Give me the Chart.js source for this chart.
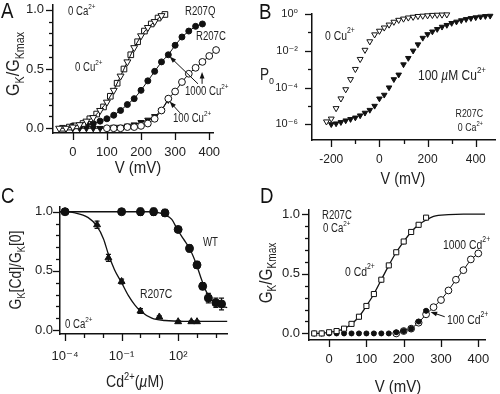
<!DOCTYPE html>
<html>
<head>
<meta charset="utf-8">
<script src="https://cdn.jsdelivr.net/npm/chart.js@4.4.1/dist/chart.umd.min.js"></script>
<style>
  html, body { margin: 0; padding: 0; background: #fff; }
  #wrap { position: relative; width: 500px; height: 394px; overflow: hidden; }
  .panel { position: absolute; width: 250px; height: 197px; }
  .tag { position: absolute; font: 22px 'Liberation Sans', sans-serif; line-height: 1; color: #111; transform: scaleX(0.85); transform-origin: left top; }
</style>
</head>
<body>
<div id="wrap">
  <div class="panel" style="left:0;top:0"><canvas id="chartA"></canvas></div>
  <div class="panel" style="left:250px;top:0"><canvas id="chartB"></canvas></div>
  <div class="panel" style="left:0;top:197px"><canvas id="chartC"></canvas></div>
  <div class="panel" style="left:250px;top:197px"><canvas id="chartD"></canvas></div>
  <div class="tag" style="left:1px;top:0">A</div>
  <div class="tag" style="left:259px;top:1px">B</div>
  <div class="tag" style="left:1px;top:185px">C</div>
  <div class="tag" style="left:260px;top:185px">D</div>
</div>
<script>
// ---------- panel A: G/Gmax vs V, Cu2+
const aVoltT = [-40, -20, 0, 20, 40, 60, 80, 100, 120, 140, 160, 180, 200, 220, 240, 260];
const aCu0T = [0.00, 0.00, 0.01, 0.03, 0.06, 0.09, 0.15, 0.22, 0.32, 0.44, 0.56, 0.68, 0.78, 0.85, 0.90, 0.95];
const aVoltS = [-30, -10, 10, 30, 50, 70, 90, 110, 130, 150, 170, 190, 210, 230, 250, 270];
const aCu0S = [0.00, 0.01, 0.02, 0.04, 0.08, 0.12, 0.18, 0.27, 0.38, 0.50, 0.62, 0.73, 0.82, 0.88, 0.93, 0.96];
const aVoltQ = [0, 20, 40, 60, 80, 100, 120, 140, 160, 180, 200, 220, 240, 260, 280, 300, 320, 340, 360, 380];
const aQCu1000 = [0.02, 0.02, 0.03, 0.04, 0.06, 0.08, 0.11, 0.15, 0.20, 0.25, 0.32, 0.40, 0.48, 0.56, 0.62, 0.70, 0.77, 0.82, 0.86, 0.88];
const aVoltC1000 = [100, 120, 140, 160, 180, 200, 220, 240, 260, 280, 300, 320, 340, 360, 380, 400, 420];
const aCCu1000 = [0.00, 0.00, 0.00, 0.01, 0.01, 0.02, 0.04, 0.08, 0.15, 0.25, 0.31, 0.39, 0.46, 0.51, 0.56, 0.61, 0.66];
const aVoltC100 = [-20, 0, 20, 40, 60, 80, 100, 120, 140, 160, 180, 200, 220, 240, 260, 280];
const aCCu100 = [0.00, 0.00, 0.00, 0.00, 0.00, 0.00, 0.00, 0.01, 0.01, 0.02, 0.03, 0.05, 0.07, 0.10, 0.15, 0.24];
const aTickX = [0, 100, 200, 300, 400];

// ---------- panel B: Po vs V (log)
const bVolt0 = [-220, -200, -180, -160, -140, -120, -100, -80, -60, -40, -20, 0, 20, 40, 60, 80, 100, 120, 140, 160, 180, 200, 220, 240, 260, 280];
const bPo0 = [1.4e-6, 2.0e-6, 7.4e-6, 2.5e-5, 7.9e-5, 2.8e-4, 1.0e-3, 3.5e-3, 1.1e-2, 3.2e-2, 7.6e-2, 0.12, 0.18, 0.26, 0.37, 0.47, 0.55, 0.63, 0.69, 0.76, 0.79, 0.83, 0.87, 0.89, 0.91, 0.93];
const bVolt100 = [-200, -180, -160, -140, -120, -100, -80, -60, -40, -20, 0, 20, 40, 60, 80, 100, 120, 140, 160, 180, 200, 220, 240, 260, 280, 300, 320, 340, 360, 380, 400, 420, 440, 460];
const bPo100 = [1.0e-6, 1.1e-6, 1.3e-6, 1.6e-6, 1.9e-6, 2.3e-6, 3.0e-6, 4.2e-6, 6.0e-6, 1.0e-5, 2.5e-5, 4.0e-5, 1.0e-4, 2.8e-4, 5.0e-4, 1.8e-3, 4.0e-3, 1.0e-2, 2.2e-2, 5.0e-2, 7.9e-2, 0.11, 0.15, 0.20, 0.25, 0.32, 0.38, 0.45, 0.52, 0.59, 0.65, 0.71, 0.76, 0.79];
const bTickX = [-200, -100, 0, 100, 200, 300, 400];
const bTickXLabels = ['-200', '', '0', '', '200', '', '400'];
const bTickY = [1, 1e-1, 1e-2, 1e-3, 1e-4, 1e-5, 1e-6];
const bTickYLabels = ['10⁰', '', '10⁻²', '', '10⁻⁴', '', '10⁻⁶'];

// ---------- panel C: Cd2+ dose response
const cConcC = [1e-4, 5e-3, 2e-2, 1e-1, 1, 10, 100, 500, 1000];
const cFracC = [1.0, 0.89, 0.61, 0.41, 0.16, 0.11, 0.07, 0.07, 0.07];
const cErrC = [0.01, 0.03, 0.03, 0.02, 0.02, 0.01, 0.01, 0.01, 0.01];
const cConcW = [1e-4, 0.1, 1, 5, 20, 100, 400, 1000, 2000, 4000, 10000, 20000];
const cFracW = [1.0, 1.0, 1.0, 1.0, 0.99, 0.85, 0.69, 0.55, 0.37, 0.27, 0.23, 0.22];
const cErrW = [0.01, 0.01, 0.03, 0.03, 0.03, 0.02, 0.03, 0.03, 0.03, 0.04, 0.04, 0.05];
const cFitCX = [5.4e-5, 3.4e-4, 1.7e-3, 4.8e-3, 1.1e-2, 2.0e-2, 4.2e-2, 0.1, 0.23, 0.51, 1, 4, 20, 200, 4e4];
const cFitCY = [1.0, 0.99, 0.95, 0.88, 0.77, 0.64, 0.51, 0.40, 0.29, 0.21, 0.16, 0.10, 0.08, 0.073, 0.073];
const cFitWX = [5.4e-5, 3, 10, 19, 46, 91, 190, 430, 950, 1800, 3200, 7400, 20000, 40000];
const cFitWY = [1.0, 1.0, 0.99, 0.975, 0.935, 0.85, 0.77, 0.68, 0.55, 0.42, 0.32, 0.24, 0.20, 0.19];
const cTickX = [1e-4, 1e-3, 1e-2, 1e-1, 1, 10, 100, 1000, 10000];
const cTickXLabels = ['10⁻⁴', '', '', '10⁻¹', '', '', '10²', '', ''];

// ---------- panel D: G/Gmax vs V, Cd2+
const dVolt0 = [-40, -20, 0, 20, 40, 60, 80, 100, 120, 140, 160, 180, 200, 220, 240, 260];
const dCd0 = [0.00, 0.00, 0.01, 0.02, 0.04, 0.08, 0.14, 0.23, 0.33, 0.45, 0.57, 0.68, 0.77, 0.85, 0.91, 0.97];
const dFit0X = [-40, -20, 0, 20, 40, 60, 80, 100, 120, 140, 160, 180, 200, 220, 240, 260, 280, 320, 360, 418];
const dFit0Y = [0.00, 0.00, 0.01, 0.02, 0.04, 0.08, 0.14, 0.23, 0.33, 0.45, 0.57, 0.68, 0.77, 0.85, 0.91, 0.95, 0.98, 0.995, 1.0, 1.0];
const dVolt100 = [-40, -20, 0, 20, 40, 60, 80, 100, 120, 140, 160, 180, 200, 220, 240, 260];
const dCd100 = [0, 0, 0, 0, 0, 0, 0, 0, 0, 0, 0, 0.01, 0.02, 0.04, 0.10, 0.19];
const dVolt1000 = [180, 200, 220, 240, 260, 280, 300, 320, 340, 360, 380, 400];
const dCd1000 = [0.00, 0.02, 0.04, 0.09, 0.16, 0.22, 0.28, 0.36, 0.45, 0.53, 0.62, 0.67];
const dTickX = [0, 100, 200, 300, 400];

// shared y ticks for the 0..1 panels
const gTickY = [0, 0.1, 0.2, 0.3, 0.4, 0.5, 0.6, 0.7, 0.8, 0.9, 1.0];
const gTickYLabels = ['0.0', '', '', '', '', '0.5', '', '', '', '', '1.0'];

const FONT = "'Liberation Sans', 'DejaVu Sans', sans-serif";
const INK = '#111';
const TEXT = '#222';

// ---------- helpers
function series(xs, ys, o) {
    return Object.assign({
        data: xs.map((x, i) => ({ x: x, y: ys[i] })),
        showLine: false,
        clip: false,
        pointRadius: 3,
        pointBorderWidth: 1,
        pointBorderColor: INK,
        pointBackgroundColor: INK,
        borderColor: INK,
        borderWidth: 1,
    }, o);
}
const openTri = { pointStyle: 'triangle', pointRotation: 180, pointRadius: 4, pointBackgroundColor: '#fff' };
const fillTri = { pointStyle: 'triangle', pointRotation: 180, pointRadius: 3.6 };
const openSq = { pointStyle: 'rect', pointRadius: 4, pointBackgroundColor: '#fff' };
const openDot = { pointStyle: 'circle', pointRadius: 3.4, pointBackgroundColor: '#fff' };
const fillDot = { pointStyle: 'circle', pointRadius: 3 };
const fitLine = { showLine: true, pointRadius: 0, borderWidth: 1.3, cubicInterpolationMode: 'monotone' };

function axis(type, min, max, vals, labels, size, pad, fit) {
    return {
        type: type,
        min: min,
        max: max,
        grid: { display: false, drawTicks: false },
        border: { display: true, color: INK, width: 1.5 },
        ticks: {
            autoSkip: false,
            maxRotation: 0,
            padding: pad,
            color: TEXT,
            font: { family: FONT, size: size },
            callback: (v, i) => labels[i],
        },
        afterBuildTicks: (s) => { s.ticks = vals.map((v) => ({ value: v })); },
        afterFit: (s) => {
            fit(s);
            s.paddingLeft = s.paddingRight = s.paddingTop = s.paddingBottom = 0;
        },
    };
}

// text with sub/superscripts, squeezed sideways like the narrow face of the figure
function rich(ctx, parts, size, align, squeeze) {
    const runs = parts.map((p) => {
        const k = p[1] || '';
        const s = (k === 'sub' || k === 'sup') ? size * 0.66 : size;
        ctx.font = (k === 'it' ? 'italic ' : '') + s + 'px ' + FONT;
        return { t: p[0], k: k, s: s, w: ctx.measureText(p[0]).width };
    });
    const total = runs.reduce((a, r) => a + r.w, 0);
    let x = align === 'center' ? -total / 2 : align === 'right' ? -total : 0;
    ctx.scale(squeeze, 1);
    ctx.fillStyle = TEXT;
    ctx.textAlign = 'left';
    ctx.textBaseline = 'middle';
    runs.forEach((r) => {
        ctx.font = (r.k === 'it' ? 'italic ' : '') + r.s + 'px ' + FONT;
        const dy = r.k === 'sub' ? size * 0.32 : r.k === 'sup' ? -size * 0.4 : 0;
        ctx.fillText(r.t, x, dy);
        x += r.w;
    });
}

function arrow(ctx, x1, y1, x2, y2) {
    const a = Math.atan2(y2 - y1, x2 - x1);
    ctx.beginPath();
    ctx.moveTo(x1, y1);
    ctx.lineTo(x2 - 4 * Math.cos(a), y2 - 4 * Math.sin(a));
    ctx.stroke();
    ctx.beginPath();
    ctx.moveTo(x2, y2);
    ctx.lineTo(x2 - 7 * Math.cos(a - 0.35), y2 - 7 * Math.sin(a - 0.35));
    ctx.lineTo(x2 - 7 * Math.cos(a + 0.35), y2 - 7 * Math.sin(a + 0.35));
    ctx.closePath();
    ctx.fill();
}

const notesPlugin = {
    id: 'notes',
    afterDraw(chart, args, opts) {
        const ctx = chart.ctx;
        const sx = chart.scales.x, sy = chart.scales.y;
        ctx.save();
        ctx.strokeStyle = INK;
        ctx.fillStyle = INK;
        ctx.lineWidth = 1;
        (opts.arrows || []).forEach((a) => {
            arrow(ctx, sx.getPixelForValue(a.from[0]), sy.getPixelForValue(a.from[1]),
                sx.getPixelForValue(a.to[0]), sy.getPixelForValue(a.to[1]));
        });
        (opts.labels || []).forEach((l) => {
            ctx.save();
            ctx.translate(l.x, l.y);
            if (l.rot) ctx.rotate(l.rot);
            rich(ctx, l.t, l.size, l.align || 'left', l.sq || 0.8);
            ctx.restore();
        });
        ctx.restore();
    },
};

const tickPlugin = {
    id: 'tickMarks',
    afterDraw(chart, args, opts) {
        const ctx = chart.ctx;
        ctx.save();
        ctx.strokeStyle = INK;
        ctx.lineWidth = 1.3;
        ['x', 'y'].forEach((id) => {
            const sc = chart.scales[id];
            sc.ticks.forEach((t, i) => {
                const len = t.label ? opts.major : opts.minor;
                const p = Math.round(sc.getPixelForTick(i)) + 0.5;
                ctx.beginPath();
                if (id === 'x') {
                    ctx.moveTo(p, sc.top);
                    ctx.lineTo(p, sc.top + len);
                } else {
                    ctx.moveTo(sc.right, p);
                    ctx.lineTo(sc.right - len, p);
                }
                ctx.stroke();
            });
        });
        ctx.restore();
    },
};

const errPlugin = {
    id: 'errbars',
    beforeDatasetsDraw(chart) {
        const ctx = chart.ctx, sy = chart.scales.y;
        ctx.save();
        ctx.strokeStyle = INK;
        ctx.lineWidth = 1.2;
        chart.data.datasets.forEach((ds, di) => {
            if (!ds.errs) return;
            chart.getDatasetMeta(di).data.forEach((pt, i) => {
                const v = ds.data[i].y, e = ds.errs[i];
                const y1 = sy.getPixelForValue(v - e), y2 = sy.getPixelForValue(v + e);
                ctx.beginPath();
                ctx.moveTo(pt.x, y1); ctx.lineTo(pt.x, y2);
                ctx.moveTo(pt.x - 2.5, y1); ctx.lineTo(pt.x + 2.5, y1);
                ctx.moveTo(pt.x - 2.5, y2); ctx.lineTo(pt.x + 2.5, y2);
                ctx.stroke();
            });
        });
        ctx.restore();
    },
};

function baseOptions(box, scales, notes) {
    return {
        responsive: true,
        maintainAspectRatio: false,
        animation: false,
        layout: { padding: { left: 0, top: box.top, right: 250 - box.right, bottom: 0 } },
        plugins: {
            legend: { display: false },
            tooltip: { enabled: false },
            notes: notes,
            tickMarks: { major: 7, minor: 4 },
        },
        scales: scales,
    };
}
const usePlugins = [errPlugin, tickPlugin, notesPlugin];

// =========== chart A
const boxA = { left: 53, top: 1, right: 213, bottom: 133 };
new Chart(document.getElementById('chartA'), {
    type: 'scatter',
    data: {
        datasets: [
            series(aVoltT, aCu0T, Object.assign({ showLine: true }, openTri)),
            series(aVoltS, aCu0S, openSq),
            series(aVoltQ, aQCu1000, Object.assign({ showLine: true }, fillDot)),
            series(aVoltC1000, aCCu1000, Object.assign({ showLine: true }, openDot)),
            series(aVoltC100, aCCu100, Object.assign({ showLine: true }, fillTri)),
        ],
    },
    options: baseOptions(boxA, {
        x: axis('linear', -58, 411, aTickX, aTickX.map(String), 13, 12, (s) => { s.height = 197 - boxA.bottom; }),
        y: axis('linear', -0.04, 1.04, gTickY, gTickYLabels, 13, 9, (s) => { s.width = boxA.left; }),
    }, {
        arrows: [
            { from: [367, 0.375], to: [284, 0.605] },
            { from: [379, 0.375], to: [379, 0.475] },
            { from: [314, 0.13], to: [284, 0.225] },
        ],
        labels: [
            { t: [['0 Ca'], ['2+', 'sup']], x: 68, y: 12, size: 12 },
            { t: [['0 Cu'], ['2+', 'sup']], x: 75, y: 68, size: 12 },
            { t: [['R207Q']], x: 185, y: 12, size: 12 },
            { t: [['R207C']], x: 196, y: 37, size: 12 },
            { t: [['1000 Cu'], ['2+', 'sup']], x: 185, y: 92, size: 12 },
            { t: [['100 Cu'], ['2+', 'sup']], x: 173, y: 119, size: 12 },
            { t: [['V (mV)']], x: 138, y: 168, size: 17, align: 'center', sq: 0.88 },
            { t: [['G'], ['K', 'sub'], ['/G'], ['Kmax', 'sub']], x: 14, y: 64, size: 19, align: 'center', rot: -Math.PI / 2, sq: 0.85 },
        ],
    }),
    plugins: usePlugins,
});

// =========== chart B
const boxB = { left: 62, top: 14, right: 250, bottom: 140 };
new Chart(document.getElementById('chartB'), {
    type: 'scatter',
    data: {
        datasets: [
            series(bVolt0, bPo0, Object.assign({}, openTri, { pointRadius: 3.4 })),
            series(bVolt100, bPo100, Object.assign({}, fillTri, { pointRadius: 3.2 })),
        ],
    },
    options: baseOptions(boxB, {
        x: axis('linear', -280, 480, bTickX, bTickXLabels, 12, 12, (s) => { s.height = 197 - boxB.bottom; }),
        y: axis('logarithmic', 1.4e-7, 1, bTickY, bTickYLabels, 11, 14, (s) => { s.width = boxB.left; }),
    }, {
        labels: [
            { t: [['0 Cu'], ['2+', 'sup']], x: 75, y: 36, size: 13 },
            { t: [['100 '], ['µ', 'it'], ['M Cu'], ['2+', 'sup']], x: 168, y: 76, size: 15 },
            { t: [['R207C']], x: 233, y: 114, size: 11, align: 'right' },
            { t: [['0 Ca'], ['2+', 'sup']], x: 233, y: 128, size: 11, align: 'right' },
            { t: [['V (mV)']], x: 153, y: 180, size: 16, align: 'center', sq: 0.9 },
            { t: [['P'], ['o', 'sub']], x: 10, y: 75, size: 17 },
        ],
    }),
    plugins: usePlugins,
});

// =========== chart C
const boxC = { left: 60, top: 10, right: 227, bottom: 137 };
new Chart(document.getElementById('chartC'), {
    type: 'scatter',
    data: {
        datasets: [
            series(cConcC, cFracC, Object.assign({ errs: cErrC }, fillTri, { pointRotation: 0, pointRadius: 4 })),
            series(cConcW, cFracW, Object.assign({ errs: cErrW }, fillDot, { pointRadius: 4 })),
            series(cFitCX, cFitCY, fitLine),
            series(cFitWX, cFitWY, fitLine),
        ],
    },
    options: baseOptions(boxC, {
        x: axis('logarithmic', 5.4e-5, 3.9e4, cTickX, cTickXLabels, 13, 15, (s) => { s.height = 197 - boxC.bottom; }),
        y: axis('linear', -0.034, 1.04, gTickY, gTickYLabels, 13, 7, (s) => { s.width = boxC.left; }),
    }, {
        labels: [
            { t: [['WT']], x: 203, y: 46, size: 12 },
            { t: [['R207C']], x: 140, y: 97, size: 13 },
            { t: [['0 Ca'], ['2+', 'sup']], x: 65, y: 128, size: 12 },
            { t: [['Cd'], ['2+', 'sup'], ['('], ['µ', 'it'], ['M)']], x: 135, y: 186, size: 16, align: 'center', sq: 0.88 },
            { t: [['G'], ['K', 'sub'], ['[Cd]/G'], ['K', 'sub'], ['[0]']], x: 16, y: 73, size: 17, align: 'center', rot: -Math.PI / 2, sq: 0.82 },
        ],
    }),
    plugins: usePlugins,
});

// =========== chart D
const boxD = { left: 59, top: 13, right: 235, bottom: 143 };
new Chart(document.getElementById('chartD'), {
    type: 'scatter',
    data: {
        datasets: [
            series(dVolt0, dCd0, Object.assign({}, openSq, { pointRadius: 3.6 })),
            series(dVolt0, dCd0, Object.assign({}, openTri, { pointRadius: 2.8 })),
            series(dVolt100, dCd100, Object.assign({}, fillDot, { pointRadius: 2.5 })),
            series(dVolt100, dCd100, Object.assign({}, fillTri, { pointRadius: 2.6 })),
            series(dVolt1000, dCd1000, Object.assign({ showLine: true }, openDot)),
            series(dFit0X, dFit0Y, fitLine),
        ],
    },
    options: baseOptions(boxD, {
        x: axis('linear', -54, 418, dTickX, dTickX.map(String), 13, 12, (s) => { s.height = 197 - boxD.bottom; }),
        y: axis('linear', -0.055, 1.034, gTickY, gTickYLabels, 13, 9, (s) => { s.width = boxD.left; }),
    }, {
        arrows: [{ from: [310, 0.14], to: [272, 0.18] }],
        labels: [
            { t: [['R207C']], x: 72, y: 19, size: 12 },
            { t: [['0 Ca'], ['2+', 'sup']], x: 73, y: 32, size: 12 },
            { t: [['0 Cd'], ['2+', 'sup']], x: 95, y: 75, size: 13 },
            { t: [['1000 Cd'], ['2+', 'sup']], x: 193, y: 48, size: 13 },
            { t: [['100 Cd'], ['2+', 'sup']], x: 197, y: 123, size: 13 },
            { t: [['V (mV)']], x: 148, y: 190, size: 17, align: 'center', sq: 0.88 },
            { t: [['G'], ['K', 'sub'], ['/G'], ['Kmax', 'sub']], x: 17, y: 76, size: 18, align: 'center', rot: -Math.PI / 2, sq: 0.85 },
        ],
    }),
    plugins: usePlugins,
});
</script>
</body>
</html>
